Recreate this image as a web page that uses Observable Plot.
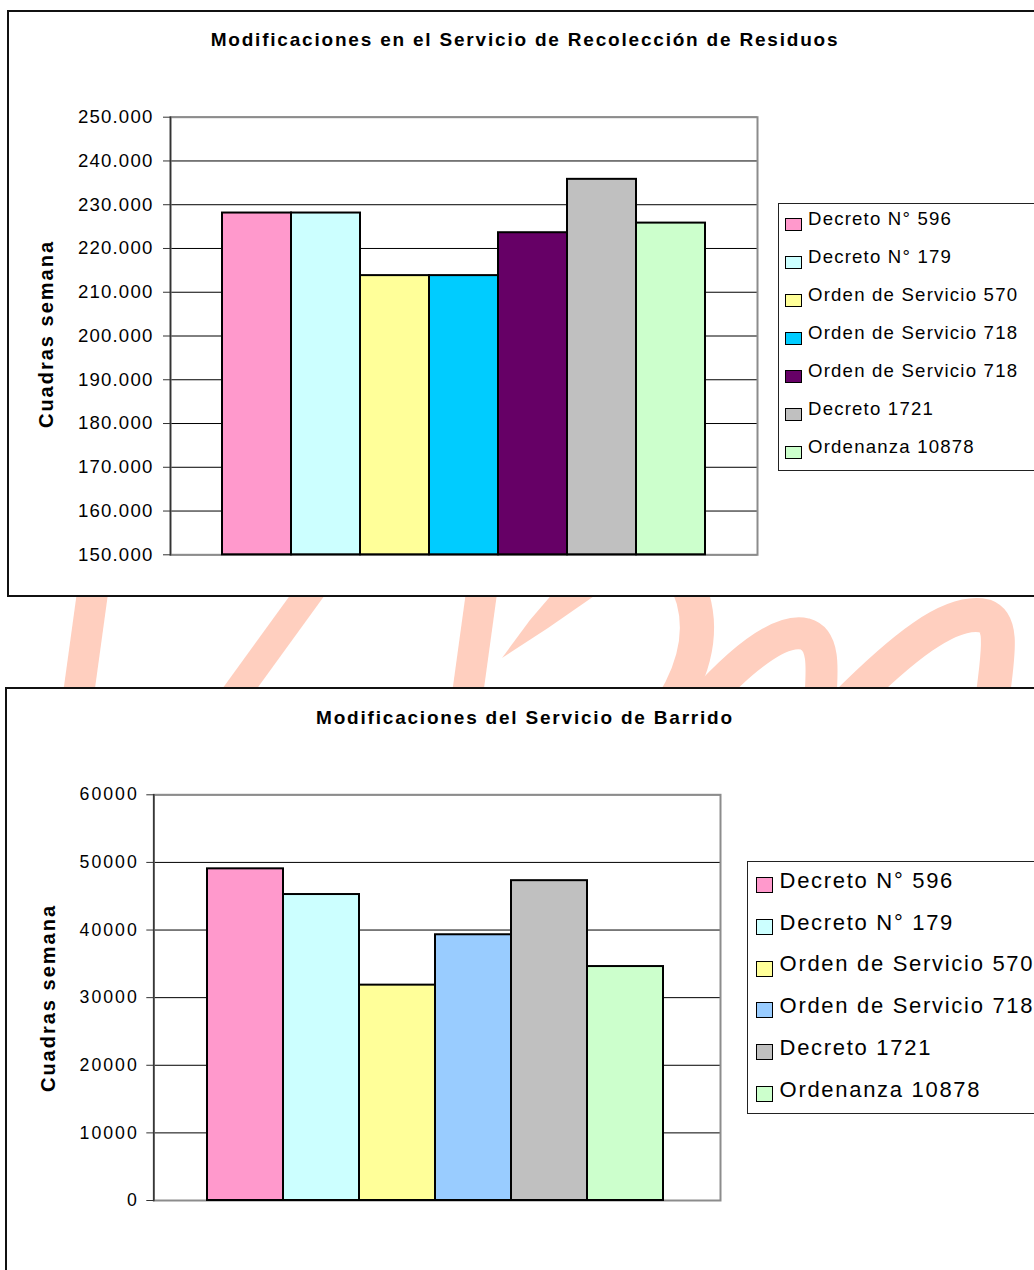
<!DOCTYPE html>
<html><head><meta charset="utf-8">
<script src="https://cdn.jsdelivr.net/npm/d3@7"></script>
<script src="https://cdn.jsdelivr.net/npm/@observablehq/plot@0.6"></script>
<style>
html,body{margin:0;padding:0;background:#fff;overflow:hidden;width:1034px;height:1270px;}
body{position:relative;font-family:"Liberation Sans",Arial,sans-serif;color:#000;}
.box{position:absolute;border:2px solid #111;background:#fff;box-sizing:border-box;}
.title{position:absolute;left:0;width:1050px;text-align:center;font-weight:bold;font-size:19px;letter-spacing:1.8px;line-height:19px;white-space:nowrap;}
.ylab{position:absolute;font-weight:bold;font-size:20px;letter-spacing:2px;line-height:20px;white-space:nowrap;transform:translate(-50%,-50%) rotate(-90deg);}
.legend{position:absolute;border:1px solid #222;background:#fff;box-sizing:border-box;}
.legend .txt{position:absolute;white-space:nowrap;}
.sw{position:absolute;border:1.5px solid #000;box-sizing:border-box;}
.plotwrap{position:absolute;}
#wm{position:absolute;left:0;top:0;}
</style>
</head><body>
<svg id="wm" width="1034" height="1270">
  <g fill="none" stroke="#FFCFBF" stroke-linecap="butt">
    <path d="M97,560 L75,720" stroke-width="31"/>
    <path d="M333,560 L217,720" stroke-width="28"/>
    <path d="M486,560 L464,720" stroke-width="31"/>
    <path d="M688,585 Q712,640 672,705" stroke-width="34"/>
    <path d="M700,705 C740,660 780,628 805,634 C826,640 822,672 820,705" stroke-width="32"/>
    <path d="M845,705 C900,650 950,608 985,616 C1006,624 996,662 992,705" stroke-width="34"/>
  </g>
  <path d="M502,658 L548,628 L610,585 L560,585 L530,620 Z" fill="#FFCFBF"/>
</svg>

<div class="box" style="left:7px;top:10px;width:1100px;height:587px;"></div>
<div class="box" style="left:5px;top:687px;width:1100px;height:700px;"></div>

<div class="title" id="t1" style="top:29.6px;"></div>
<div class="title" id="t2" style="top:707.9px;"></div>
<div class="ylab" id="yl1" style="left:46px;top:334px;"></div>
<div class="ylab" id="yl2" style="left:48px;top:998px;"></div>

<div class="plotwrap" id="p1" style="left:100px;top:100px;"></div>
<div class="plotwrap" id="p2" style="left:80px;top:780px;"></div>

<div class="legend" id="lg1" style="left:778px;top:203px;width:400px;height:268px;"></div>
<div class="legend" id="lg2" style="left:747px;top:861px;width:400px;height:253px;"></div>

<script>
// ---------- data ----------
const title1 = "Modificaciones en el Servicio de Recolección de Residuos";
const title2 = "Modificaciones del Servicio de Barrido";
const yLabel = "Cuadras semana";

const names1 = ["Decreto N° 596","Decreto N° 179","Orden de Servicio 570","Orden de Servicio 718","Orden de Servicio 718","Decreto 1721","Ordenanza 10878"];
const values1 = [228100, 228100, 213800, 213800, 223600, 235800, 225800];
const colors1 = ["#FF99CC","#CCFFFF","#FFFF99","#00CCFF","#660066","#C0C0C0","#CCFFCC"];
const yTicks1 = [150000,160000,170000,180000,190000,200000,210000,220000,230000,240000,250000];

const names2 = ["Decreto N° 596","Decreto N° 179","Orden de Servicio 570","Orden de Servicio 718","Decreto 1721","Ordenanza 10878"];
const values2 = [49050, 45250, 31850, 39300, 47300, 34600];
const colors2 = ["#FF99CC","#CCFFFF","#FFFF99","#99CCFF","#C0C0C0","#CCFFCC"];
const yTicks2 = [0,10000,20000,30000,40000,50000,60000];

// ---------- text ----------
document.getElementById("t1").textContent = title1;
document.getElementById("t2").textContent = title2;
document.getElementById("yl1").textContent = yLabel;
document.getElementById("yl2").textContent = yLabel;

const fmtDot = v => d3.format(",")(v).replace(/,/g, ".");

function chart(names, values, colors, ticks, fmt, o) {
  const data = names.map((n, i) => ({i, name: n, value: values[i], color: colors[i]}));
  const y0 = ticks[0], y1 = ticks[ticks.length - 1];
  return Plot.plot({
    width: o.width, height: o.height,
    marginLeft: o.ml, marginTop: o.mt, marginRight: o.mr, marginBottom: o.mb,
    style: {fontFamily: '"Liberation Sans", Arial, sans-serif', fontSize: o.fs + "px", letterSpacing: o.ls + "px", background: "transparent", color: "#000", overflow: "visible"},
    x: {type: "band", domain: data.map(d => d.i), padding: 0, insetLeft: o.il, insetRight: o.ir, axis: null},
    y: {domain: [y0, y1], axis: null},
    marks: [
      Plot.ruleY(ticks, {stroke: "#000", strokeWidth: 1}),
      Plot.frame({stroke: "#8c8c8c", strokeWidth: 2}),
      Plot.barY(data, {x: "i", y1: y0, y2: "value", fill: "color", stroke: "#000", strokeWidth: 2}),
      Plot.frame({anchor: "left", stroke: "#333", strokeWidth: 1.5}),
      Plot.axisY({ticks, tickFormat: fmt, tickSize: 7, tickPadding: o.tp, fontSize: o.fs, label: null, stroke: "#333"})
    ]
  });
}

document.getElementById("p1").appendChild(chart(names1, values1, colors1, yTicks1, fmtDot,
  {width: 680, height: 470, ml: 70, mt: 16.7, mr: 23, mb: 15.7, il: 48.2, ir: 49, fs: 18.6, ls: 1.2, tp: 10}));
document.getElementById("p2").appendChild(chart(names2, values2, colors2, yTicks2, d3.format("d"),
  {width: 660, height: 440, ml: 73.3, mt: 14.3, mr: 20, mb: 20, il: 53, ir: 55.5, fs: 17.7, ls: 2, tp: 8}));

function legend(el, names, colors, o) {
  names.forEach((n, i) => {
    const sw = document.createElement("div");
    sw.className = "sw";
    sw.style.cssText = `left:${o.sx}px;top:${o.sy + i * o.sp}px;width:${o.sw}px;height:${o.sh}px;background:${colors[i]};`;
    el.appendChild(sw);
    const t = document.createElement("div");
    t.className = "txt";
    t.textContent = n;
    t.style.cssText = `left:${o.tx}px;top:${o.ty + i * o.sp}px;font-size:${o.fs}px;line-height:${o.fs}px;letter-spacing:${o.ls}px;`;
    el.appendChild(t);
  });
}
legend(document.getElementById("lg1"), names1, colors1, {sx: 6, sy: 13.7, sw: 17, sh: 13, tx: 29, ty: 6.3, sp: 38, fs: 18.6, ls: 1.2});
legend(document.getElementById("lg2"), names2, colors2, {sx: 8.3, sy: 15.3, sw: 17, sh: 16, tx: 31.6, ty: 8, sp: 41.7, fs: 22, ls: 1.7});
</script>
</body></html>
